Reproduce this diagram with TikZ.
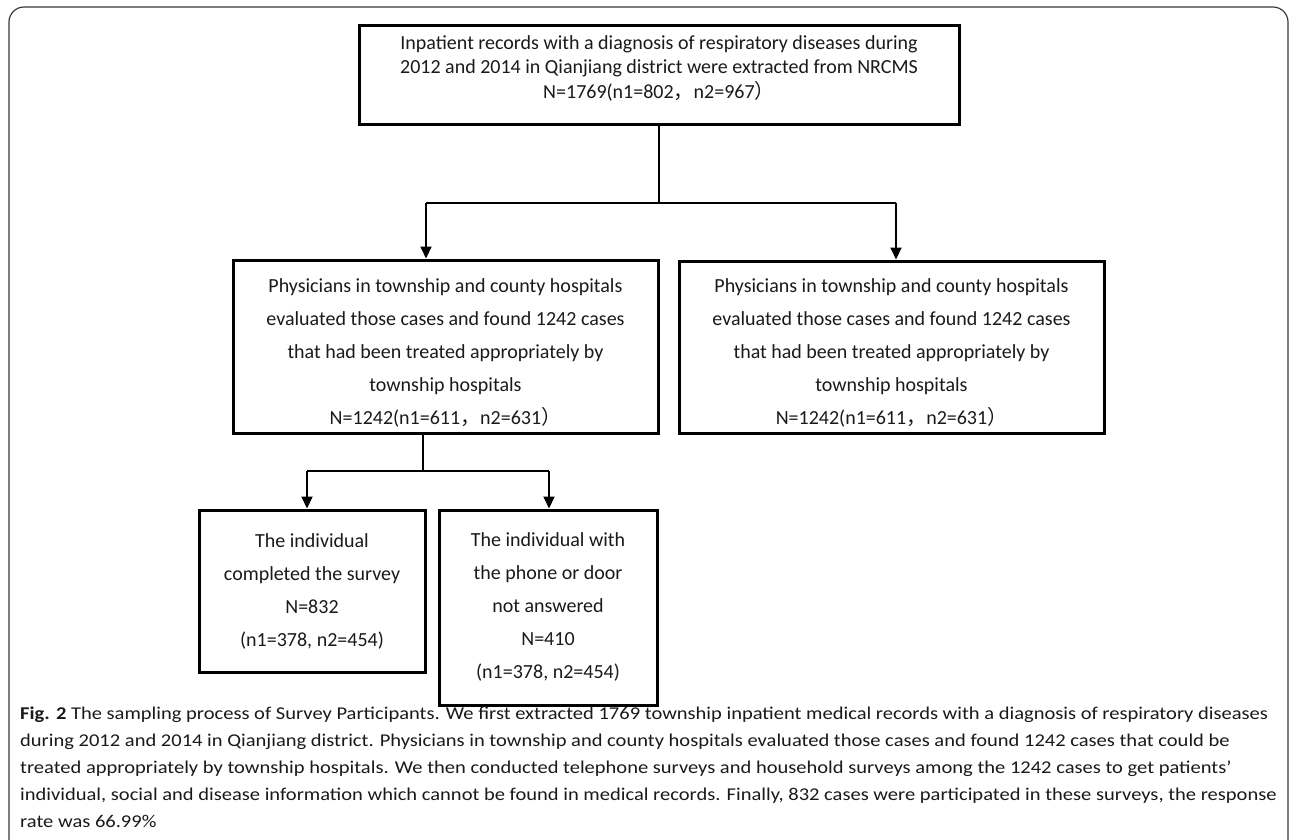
\documentclass[tikz,border=0pt]{standalone}
\usepackage{fontspec}
\setmainfont{Carlito}
\newfontfamily\capfont[FakeStretch=1.14]{Carlito}
\newfontfamily\cjk{Noto Sans CJK SC}
\usetikzlibrary{arrows.meta}
\definecolor{txt}{HTML}{1A1A1A}
\definecolor{framec}{HTML}{3A3A3A}
\newcommand{\fwc}{{\cjk ，}}
\newcommand{\fwp}{{\cjk ）}}
\tikzset{
  boxnode/.style={draw=black, line width=3pt, rectangle, inner sep=0pt},
  boxtext/.style={text=txt, align=center, font=\fontsize{20}{33}\selectfont, inner sep=0pt},
  toptext/.style={text=txt, align=center, font=\fontsize{20}{24.5}\selectfont, inner sep=0pt},
  conn/.style={draw=black, line width=2pt},
  arr/.style={conn, -{Triangle[width=11pt,length=12pt]}},
  capline/.style={anchor=base west, inner sep=0pt, text=txt, font=\capfont\fontsize{18}{20}\selectfont}
}
\begin{document}
\begin{tikzpicture}[x=1pt,y=-1pt]
\useasboundingbox (0,0) rectangle (1290,839);
\fill[white] (0,0) rectangle (1290,839);
\draw[framec, line width=1.2pt, rounded corners=15pt] (9,7) rectangle (1288,870);

% boxes
\node[boxnode, minimum width=600pt, minimum height=99pt] (top) at (659,74.5) {};
\node[toptext] (toptx) at (659,68) {Inpatient records with a diagnosis of respiratory diseases during\\2012 and 2014 in Qianjiang district were extracted from NRCMS\\N=1769(n1=802\fwc n2=967\fwp};

\node[boxnode, minimum width=425pt, minimum height=173pt] (ml) at (445.5,346.5) {};
\node[boxtext] (mltx) at (445.5,353) {Physicians in township and county hospitals\\evaluated those cases and found 1242 cases\\that had been treated appropriately by\\township hospitals\\N=1242(n1=611\fwc n2=631\fwp};

\node[boxnode, minimum width=425pt, minimum height=172pt] (mr) at (891.5,347) {};
\node[boxtext] (mrtx) at (891.5,353) {Physicians in township and county hospitals\\evaluated those cases and found 1242 cases\\that had been treated appropriately by\\township hospitals\\N=1242(n1=611\fwc n2=631\fwp};

\node[boxnode, minimum width=226pt, minimum height=162pt] (bl) at (312,591) {};
\node[boxtext] (bltx) at (312,591) {The individual\\completed the survey\\N=832\\(n1=378, n2=454)};

\node[boxnode, minimum width=218pt, minimum height=195pt] (br) at (548,607.5) {};
\node[boxtext] (brtx) at (548,607) {The individual with\\the phone or door\\not answered\\N=410\\(n1=378, n2=454)};

% connectors level 1
\coordinate (j0) at (659,203);
\coordinate (ja) at (426,203);
\coordinate (jb) at (896,203);
\draw[conn] (top.south) -- (j0);
\draw[conn] (ja) -- (jb);
\draw[arr] (ja) -- (ja |- ml.north);
\draw[arr] (jb) -- (jb |- mr.north);

% connectors level 2
\coordinate (k0) at (423,471);
\coordinate (ka) at (307,471);
\coordinate (kb) at (549,471);
\draw[conn] (ml.south -| k0) -- (k0);
\draw[conn] (ka) -- (kb);
\draw[arr] (ka) -- (ka |- bl.north);
\draw[arr] (kb) -- (kb |- br.north);

% caption
\node[capline] (cap1) at (20,719) {\textbf{Fig. 2} The sampling process of Survey Participants. We first extracted 1769 township inpatient medical records with a diagnosis of respiratory diseases};
\node[capline] (cap2) at (20,746) {during 2012 and 2014 in Qianjiang district. Physicians in township and county hospitals evaluated those cases and found 1242 cases that could be};
\node[capline] (cap3) at (20,773) {treated appropriately by township hospitals. We then conducted telephone surveys and household surveys among the 1242 cases to get patients’};
\node[capline] (cap4) at (20,800) {individual, social and disease information which cannot be found in medical records. Finally, 832 cases were participated in these surveys, the response};
\node[capline] (cap5) at (20,827) {rate was 66.99\%};
\end{tikzpicture}
\end{document}
